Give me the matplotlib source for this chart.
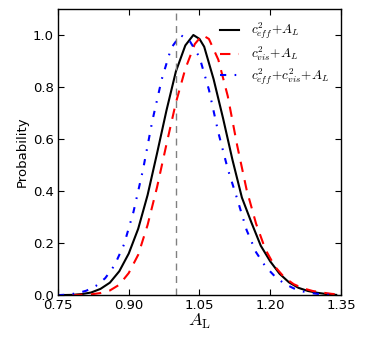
import matplotlib
matplotlib.use("Agg")
import matplotlib.pyplot as plt
import numpy as np

plt.rcParams['mathtext.fontset'] = 'cm'

# A_L posteriors
x_eff = [0.75, 0.78, 0.80, 0.82, 0.84, 0.86, 0.88, 0.90, 0.92, 0.94, 0.96, 0.98, 1.00, 1.02, 1.037,
         1.05, 1.06, 1.08, 1.10, 1.12, 1.14, 1.16, 1.18, 1.20, 1.22, 1.24, 1.26, 1.28, 1.30, 1.32, 1.34]
p_eff = [0.000, 0.001, 0.004, 0.010, 0.024, 0.048, 0.092, 0.160, 0.255, 0.385, 0.545, 0.710, 0.860, 0.960, 1.000,
         0.985, 0.955, 0.830, 0.680, 0.520, 0.375, 0.280, 0.190, 0.130, 0.082, 0.049, 0.028, 0.016, 0.009, 0.004, 0.001]

x_vis = [0.78, 0.82, 0.84, 0.86, 0.88, 0.90, 0.92, 0.94, 0.96, 0.98, 1.00, 1.02, 1.04, 1.056,
         1.07, 1.09, 1.11, 1.13, 1.15, 1.17, 1.19, 1.21, 1.23, 1.25, 1.27, 1.29, 1.31, 1.33, 1.35]
p_vis = [0.000, 0.003, 0.008, 0.018, 0.040, 0.085, 0.155, 0.270, 0.415, 0.580, 0.740, 0.870, 0.965, 1.000,
         0.985, 0.905, 0.765, 0.575, 0.405, 0.275, 0.175, 0.110, 0.068, 0.042, 0.026, 0.016, 0.010, 0.005, 0.002]

x_both = [0.75, 0.77, 0.79, 0.81, 0.83, 0.85, 0.87, 0.89, 0.91, 0.93, 0.95, 0.97, 0.99, 1.01,
          1.03, 1.05, 1.07, 1.09, 1.11, 1.13, 1.15, 1.17, 1.19, 1.21, 1.23, 1.25, 1.27, 1.29, 1.31, 1.33]
p_both = [0.000, 0.002, 0.007, 0.017, 0.035, 0.065, 0.115, 0.195, 0.320, 0.480, 0.670, 0.830, 0.950, 1.000,
          0.975, 0.915, 0.790, 0.625, 0.485, 0.370, 0.250, 0.165, 0.110, 0.072, 0.044, 0.026, 0.014, 0.007, 0.003, 0.001]

labels = [r'$c_{eff}^2\!+\!A_L$', r'$c_{vis}^2\!+\!A_L$', r'$c_{eff}^2\!+\!c_{vis}^2\!+\!A_L$']
xticks = [0.75, 0.90, 1.05, 1.20, 1.35]
yticks = [0.0, 0.2, 0.4, 0.6, 0.8, 1.0]

fig = plt.figure(figsize=(3.65, 3.46), dpi=100)
ax = fig.add_axes([0.159, 0.147, 0.775, 0.827])

ax.plot(x_eff, p_eff, color='k', ls='-', lw=1.5, label=labels[0])
ax.plot(x_vis, p_vis, color='r', ls=(0, (5, 4)), lw=1.5, label=labels[1])
ax.plot(x_both, p_both, color='b', ls=(0, (3, 4, 0.8, 4)), lw=1.5, label=labels[2])
ax.axvline(1.0, color='grey', ls=(0, (5, 4)), lw=1.0)

ax.set_xlim(0.75, 1.35)
ax.set_ylim(0, 1.1)
ax.set_xticks(xticks)
ax.set_xticklabels(['%.2f' % t for t in xticks])
ax.set_yticks(yticks)
ax.set_yticklabels(['%.1f' % t for t in yticks])
ax.tick_params(direction='in', top=True, right=True, length=4, width=0.8, labelsize=9.5, pad=3)
for s in ax.spines.values():
    s.set_linewidth(1.0)

ax.set_xlabel(r'$A_{\rm L}$', fontsize=13, labelpad=0)
ax.set_ylabel('Probability', fontsize=9.5, labelpad=3)

ax.legend(loc='upper right', frameon=False, fontsize=9.5, handlelength=1.4,
          handletextpad=0.9, labelspacing=0.25, borderaxespad=0.5)

fig.savefig('out.png', dpi=100)
